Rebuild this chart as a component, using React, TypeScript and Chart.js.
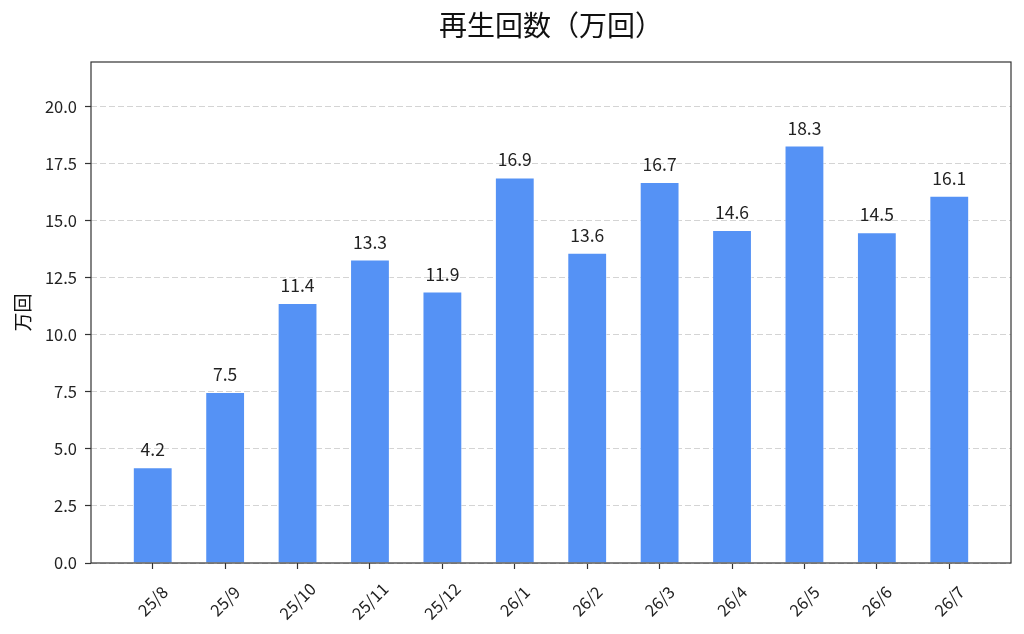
import React, { useEffect, useRef } from "react";
import { Chart, registerables } from "chart.js";

Chart.register(...registerables);

const categories = ["25/8", "25/9", "25/10", "25/11", "25/12", "26/1", "26/2", "26/3", "26/4", "26/5", "26/6", "26/7"];
const plays = [4.2, 7.5, 11.4, 13.3, 11.9, 16.9, 13.6, 16.7, 14.6, 18.3, 14.5, 16.1];
const yTicks = [0, 2.5, 5, 7.5, 10, 12.5, 15, 17.5, 20];
const titleText = "再生回数（万回）";
const yTitle = "万回";

const FONT = "'Noto Sans CJK JP', 'Noto Sans', sans-serif";

export default function App() {
  const ref = useRef<HTMLCanvasElement | null>(null);
  useEffect(() => {
    document.body.style.margin = "0";
    const canvas = ref.current!;
    const overlay = {
      id: "overlay",
      afterDatasetsDraw(chart: any) {
        const { ctx, chartArea } = chart;
        ctx.save();
        // frame
        ctx.strokeStyle = "#333";
        ctx.lineWidth = 1.2;
        ctx.setLineDash([]);
        ctx.strokeRect(chartArea.left, chartArea.top, chartArea.right - chartArea.left, chartArea.bottom - chartArea.top);
        // value labels
        const meta = chart.getDatasetMeta(0);
        ctx.fillStyle = "#222";
        ctx.font = `17.5px ${FONT}`;
        ctx.textAlign = "center";
        ctx.textBaseline = "alphabetic";
        meta.data.forEach((el: any, i: number) => {
          ctx.fillText(plays[i].toFixed(1), el.x, el.y - 11);
        });
        // x tick labels (rotated, centred on tick)
        const xs = chart.scales.x;
        ctx.font = `16.5px ${FONT}`;
        ctx.textBaseline = "middle";
        categories.forEach((c, i) => {
          const px = xs.getPixelForValue(i);
          ctx.save();
          ctx.translate(px, chartArea.bottom + 38);
          ctx.rotate(-Math.PI / 4);
          ctx.fillText(c, 0, 0);
          ctx.restore();
        });
        // y axis title
        ctx.font = `19px ${FONT}`;
        ctx.fillStyle = "#111";
        ctx.save();
        ctx.translate(23, (chartArea.top + chartArea.bottom) / 2);
        ctx.rotate(-Math.PI / 2);
        ctx.fillText(yTitle, 0, 0);
        ctx.restore();
        // title
        ctx.font = `28px ${FONT}`;
        ctx.fillText(titleText, (chartArea.left + chartArea.right) / 2, 25);
        ctx.restore();
      },
    };
    const chart = new Chart(canvas, {
      type: "bar",
      data: {
        datasets: [
          {
            data: plays.map((v, i) => ({ x: i, y: v })),
            backgroundColor: "rgb(85,146,245)",
            borderColor: "rgba(255,255,255,0.6)",
            borderWidth: 1,
            barPercentage: 0.55,
            categoryPercentage: 1,
          },
        ],
      },
      options: {
        animation: false,
        responsive: false,
        maintainAspectRatio: false,
        layout: { padding: { top: 62, right: 13, left: 0, bottom: 0 } },
        plugins: { legend: { display: false }, tooltip: { enabled: false }, title: { display: false } },
        scales: {
          x: {
            type: "linear",
            offset: false,
            min: -0.8525,
            max: 11.8525,
            afterBuildTicks: (s: any) => {
              s.ticks = categories.map((_, i) => ({ value: i }));
            },
            afterFit: (s: any) => {
              s.height = 71;
            },
            ticks: { display: false },
            grid: { offset: false, drawOnChartArea: false, tickLength: 6, tickColor: "#333", tickWidth: 1.2 },
            border: { display: false },
          },
          y: {
            min: 0,
            max: 21.96,
            afterBuildTicks: (s: any) => {
              s.ticks = yTicks.map((v) => ({ value: v }));
            },
            afterFit: (s: any) => {
              s.width = 91;
            },
            ticks: {
              color: "#222",
              font: { family: FONT, size: 16.5 },
              padding: 8,
              callback: (v: any) => Number(v).toFixed(1),
            },
            title: { display: false },
            grid: { color: "#d4d4d4", lineWidth: 1, tickLength: 6, tickColor: "#333", tickWidth: 1.2, tickBorderDash: [] },
            border: { display: false, dash: [6, 3] },
          },
        },
      },
      plugins: [overlay],
    } as any);
    return () => chart.destroy();
  }, []);
  return (
    <div style={{ position: "absolute", left: 0, top: 0, width: 1024, height: 634, background: "#fff" }}>
      <canvas ref={ref} width={1024} height={634} style={{ width: 1024, height: 634 }} />
    </div>
  );
}
